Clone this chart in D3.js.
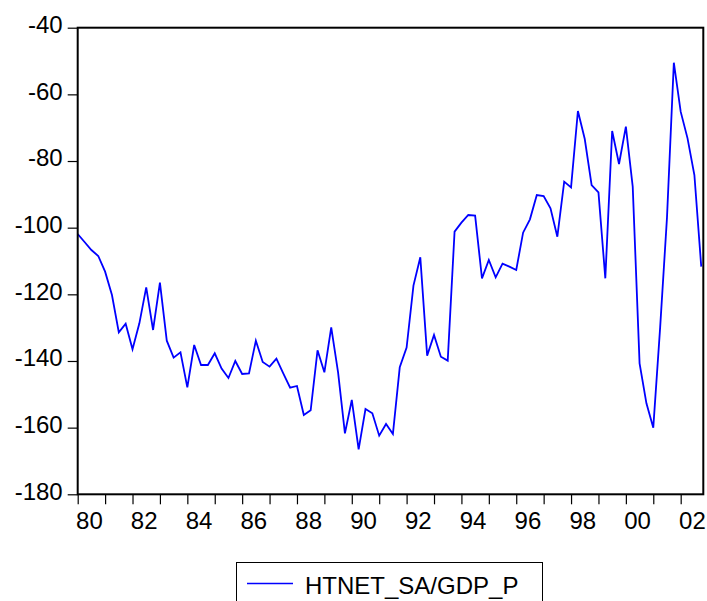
<!DOCTYPE html>
<html>
<head>
<meta charset="utf-8">
<script src="https://cdn.jsdelivr.net/npm/d3@7/dist/d3.min.js"></script>
<style>
  html, body { margin: 0; padding: 0; background: #fff; }
  svg { display: block; }
  text { font-family: "Liberation Sans", Arial, sans-serif; fill: #000; }
</style>
</head>
<body>
<svg id="chart" width="707" height="601"></svg>
<script>
// Quarterly series, 1980Q1 – 2002Q4
const startYear = 1980;
const seriesName = "HTNET_SA/GDP_P";
const values = [
  -101.9, -104.3, -106.7, -108.5,   // 1980
  -113.2, -120.2, -131.4, -128.8,   // 1981
  -136.5, -128.7, -117.9, -130.7,   // 1982
  -116.5, -133.9, -139.0, -137.4,   // 1983
  -147.9, -135.2, -141.2, -141.2,   // 1984
  -137.7, -142.3, -145.1, -140.0,   // 1985
  -143.9, -143.7, -133.9, -140.3,   // 1986
  -141.7, -139.3, -143.7, -148.0,   // 1987
  -147.5, -156.2, -154.8, -136.8,   // 1988
  -143.4, -129.9, -143.4, -161.7,   // 1989
  -151.7, -166.5, -154.4, -155.7,   // 1990
  -162.4, -158.9, -161.9, -141.9,   // 1991
  -136.0, -117.4, -108.9, -138.4,   // 1992
  -132.2, -138.7, -139.9, -101.2,   // 1993
  -98.5,  -96.2,  -96.4,  -115.2,   // 1994
  -109.7, -114.9, -110.8, -111.7,   // 1995
  -112.7, -101.5, -97.5,  -90.2,    // 1996
  -90.5,  -94.2,  -102.7, -86.2,    // 1997
  -87.9,  -65.0,  -73.4,  -87.2,    // 1998
  -89.4,  -115.2, -71.0,  -80.9,    // 1999
  -69.7,  -87.7,  -140.7, -152.7,   // 2000
  -160.0, -130.0, -97.0,  -50.5,    // 2001
  -65.2,  -73.2,  -84.2,  -111.7    // 2002
];
const yTicks = [-40, -60, -80, -100, -120, -140, -160, -180];
const xTickYears = d3.range(1980, 2003);            // one tick per year
const xLabelYears = [1980, 1982, 1984, 1986, 1988, 1990, 1992, 1994, 1996, 1998, 2000, 2002];
const xLabelText = ["80", "82", "84", "86", "88", "90", "92", "94", "96", "98", "00", "02"];

// observation time as fractional year
const data = values.map((v, i) => ({ t: startYear + Math.floor(i / 4) + (i % 4) / 4, v }));

const svg = d3.select("#chart");
const plotLeft = 77.7, plotRight = 703.3, plotTop = 27.7, plotBottom = 494.3;

const x = d3.scaleLinear().domain([1980, 2002.825]).range([plotLeft, plotRight]);
const y = d3.scaleLinear().domain([-180, -40]).range([plotBottom, plotTop]);

// y axis: ticks and labels (plain hyphen for the minus sign)
const yAxis = d3.axisLeft(y).tickValues(yTicks).tickSize(10).tickSizeOuter(0).tickPadding(5)
  .tickFormat((d) => String(d));
const gy = svg.append("g").attr("transform", `translate(${plotLeft},0)`).call(yAxis);
gy.select(".domain").remove();
gy.selectAll(".tick line").attr("stroke", "#000").attr("stroke-width", 1.2);
gy.selectAll(".tick text")
  .attr("font-size", 24)
  .attr("font-family", "Liberation Sans, Arial, sans-serif")
  .attr("dy", "0.2em");

// x axis: yearly ticks
const xAxis = d3.axisBottom(x).tickValues(xTickYears).tickSize(10).tickSizeOuter(0).tickFormat("");
const gx = svg.append("g").attr("transform", `translate(0,${plotBottom})`).call(xAxis);
gx.select(".domain").remove();
gx.selectAll(".tick line").attr("stroke", "#000").attr("stroke-width", 1.2);

// x labels centred within their year
svg.append("g").selectAll("text")
  .data(xLabelYears)
  .join("text")
  .attr("x", (d) => x(d + 0.5) - 2)
  .attr("y", 529)
  .attr("text-anchor", "middle")
  .attr("font-size", 24)
  .text((d, i) => xLabelText[i]);

// series line
const line = d3.line().x((d) => x(d.t)).y((d) => y(d.v));
svg.append("path")
  .datum(data)
  .attr("fill", "none")
  .attr("stroke", "#0000ff")
  .attr("stroke-width", 1.8)
  .attr("stroke-linejoin", "miter")
  .attr("d", line);

// plot frame
svg.append("rect")
  .attr("x", plotLeft).attr("y", plotTop)
  .attr("width", plotRight - plotLeft).attr("height", plotBottom - plotTop)
  .attr("fill", "none").attr("stroke", "#000").attr("stroke-width", 2);

// legend
const lg = svg.append("g");
lg.append("rect")
  .attr("x", 236.5).attr("y", 562.5).attr("width", 306).attr("height", 50)
  .attr("fill", "none").attr("stroke", "#000").attr("stroke-width", 1);
lg.append("line")
  .attr("x1", 247).attr("x2", 293).attr("y1", 583.5).attr("y2", 583.5)
  .attr("stroke", "#0000ff").attr("stroke-width", 1.5);
lg.append("text")
  .attr("x", 305).attr("y", 594)
  .attr("font-size", 24)
  .text(seriesName);
</script>
</body>
</html>
